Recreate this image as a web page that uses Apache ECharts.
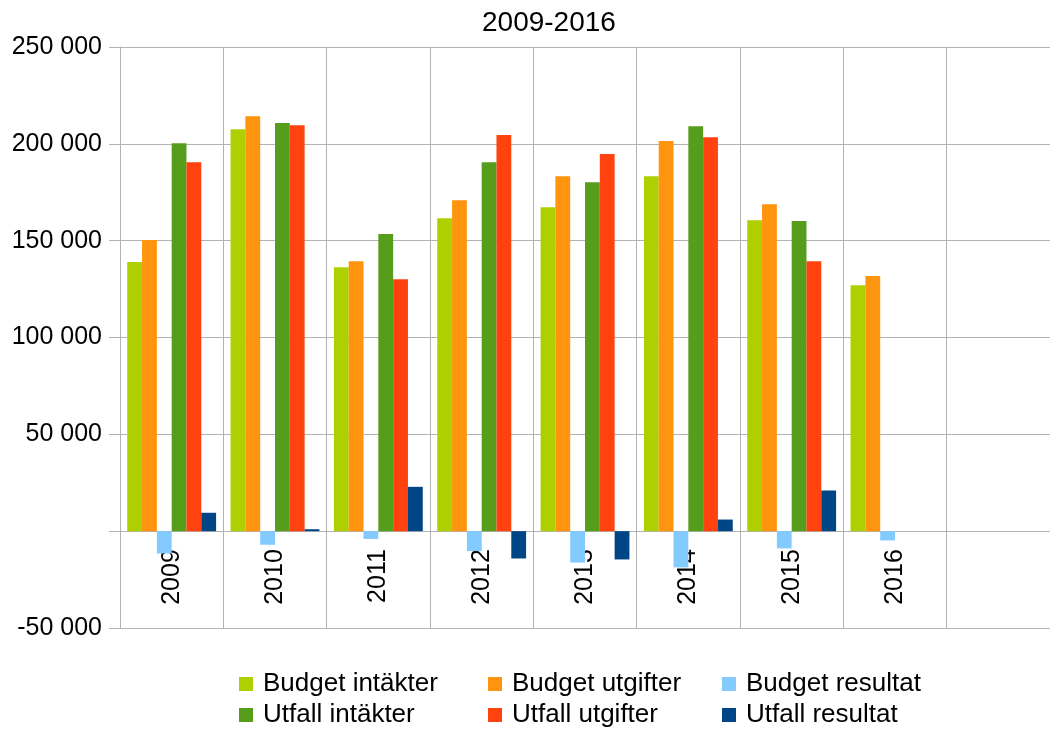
<!DOCTYPE html>
<html>
<head>
<meta charset="utf-8">
<script src="https://cdn.jsdelivr.net/npm/echarts@6/dist/echarts.min.js"></script>
<style>html,body{margin:0;padding:0;background:#fff}#c{width:1050px;height:729px}</style>
</head>
<body>
<div id="c"></div>
<script>
var categories = ['2009','2010','2011','2012','2013','2014','2015','2016',''];
var seriesNames = ['Budget intäkter','Budget utgifter','Budget resultat','Utfall intäkter','Utfall utgifter','Utfall resultat'];
var budgetIntakter = [139000, 207500, 136300, 161600, 167300, 183300, 160600, 127000, null];
var budgetUtgifter = [150300, 214300, 139400, 170900, 183300, 201400, 168800, 131700, null];
var budgetResultat = [-11500, -7000, -4000, -10300, -16200, -18700, -8900, -4800, null];
var utfallIntakter = [200300, 210700, 153400, 190500, 180200, 209100, 160100, null, null];
var utfallUtgifter = [190500, 209600, 130100, 204500, 194700, 203400, 139400, null, null];
var utfallResultat = [9500, 1000, 22900, -14100, -14600, 6000, 21000, null, null];
var yTicks = {min: -50000, max: 250000, interval: 50000};
var colors = ['#aecf00','#ff950e','#83caff','#579d1c','#ff420e','#004586'];

var FONT = 'Liberation Sans';
var grey = '#b3b3b3';
function fmt(v){ if (v === 0) return ''; var s = Math.abs(v).toString().replace(/\B(?=(\d{3})+(?!\d))/g,' '); return (v<0?'-':'') + s; }

var dataArr = [budgetIntakter, budgetUtgifter, budgetResultat, utfallIntakter, utfallUtgifter, utfallResultat];
var series = seriesNames.map(function(n,i){
  return {name:n, type:'bar', data:dataArr[i], itemStyle:{color:colors[i]}, barGap:'0%', barCategoryGap:'14%'};
});

var legendLeft = [239, 488, 722];
var legendTop = [669, 700];
var legends = [];
seriesNames.forEach(function(n,i){
  var col = i % 3, row = Math.floor(i/3);
  legends.push({data:[n], orient:'horizontal', left:legendLeft[col], top:legendTop[row], padding:0,
    itemWidth:14, itemHeight:14, icon:'rect',
    textStyle:{fontFamily:FONT, fontSize:26, color:'#000', lineHeight:30, padding:[0,0,0,5]}});
});

// grid geometry: plot top 47, bottom 628; zero line offset from bottom
var gridTop = 47, gridBottomPx = 628;
var zeroOffset = (gridBottomPx - gridTop) * (0 - yTicks.min) / (yTicks.max - yTicks.min);

var chart = echarts.init(document.getElementById('c'), null, {renderer:'canvas'});
chart.setOption({
  animation:false,
  backgroundColor:'#fff',
  title:{text:'2009-2016', left:482, top:9, padding:0, textStyle:{fontFamily:FONT, fontSize:28, fontWeight:'normal', color:'#000'}},
  legend:legends,
  grid:{left:120, right:-12, top:gridTop, bottom:729 - gridBottomPx, containLabel:false},
  xAxis:{type:'category', data:categories, offset:-zeroOffset,
    axisLine:{show:true, onZero:false, lineStyle:{color:grey, width:1}},
    axisTick:{show:true, length:12, lineStyle:{color:grey}},
    splitLine:{show:true, lineStyle:{color:grey, width:1}},
    axisLabel:{rotate:90, margin:18, fontFamily:FONT, fontSize:25, color:'#000'}},
  yAxis:{type:'value', min:yTicks.min, max:yTicks.max, interval:yTicks.interval,
    axisLine:{show:true, lineStyle:{color:grey, width:1}},
    axisTick:{show:true, length:11, lineStyle:{color:grey}},
    splitLine:{show:true, lineStyle:{color:grey, width:1}},
    axisLabel:{margin:18, fontFamily:FONT, fontSize:25, color:'#000', formatter:fmt}},
  series:series
});
</script>
</body>
</html>
